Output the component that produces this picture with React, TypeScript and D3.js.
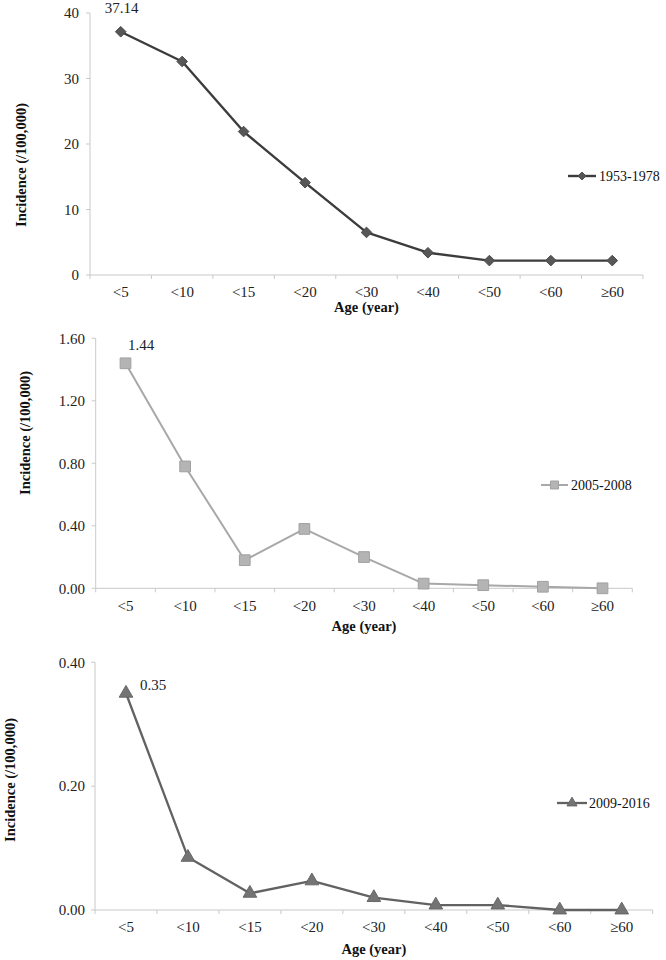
import React from "react";
import * as d3 from "d3";

const categories = ["<5", "<10", "<15", "<20", "<30", "<40", "<50", "<60", "≥60"];
const series1953 = [37.14, 32.6, 21.9, 14.1, 6.5, 3.4, 2.2, 2.2, 2.2];
const series2005 = [1.44, 0.78, 0.18, 0.38, 0.2, 0.03, 0.02, 0.01, 0.0];
const series2009 = [0.35, 0.085, 0.027, 0.047, 0.02, 0.008, 0.008, 0.0, 0.0];
const ticks1953 = [0, 10, 20, 30, 40];
const ticks2005 = [0, 0.4, 0.8, 1.2, 1.6];
const ticks2009 = [0, 0.2, 0.4];
const legendNames = ["1953-1978", "2005-2008", "2009-2016"];
const peakLabels = ["37.14", "1.44", "0.35"];

const FONT = "'Liberation Serif', 'Times New Roman', serif";
const AXIS = "#c9c9c9";

type PanelCfg = {
  values: number[];
  ticks: number[];
  fmt: (v: number) => string;
  name: string;
  label: string;
  x0: number; x1: number; yTop: number; yBot: number;
  tickRight: number;
  yTitleX: number; yTitleY: number;
  catY: number; xTitleY: number;
  labelX: number; labelY: number; labelAnchor: string;
  legX0: number; legX1: number; legY: number; legTextX: number;
  line: string; fill: string; stroke: string; lw: number;
  symbol: d3.SymbolType; symSize: number;
};

const panels: PanelCfg[] = [
  {
    values: series1953, ticks: ticks1953, fmt: d3.format("d"), name: legendNames[0], label: peakLabels[0],
    x0: 90, x1: 643, yTop: 13, yBot: 275, tickRight: 79,
    yTitleX: 21, yTitleY: 165, catY: 297, xTitleY: 312,
    labelX: 121.5, labelY: 13, labelAnchor: "middle",
    legX0: 568, legX1: 596, legY: 176, legTextX: 599,
    line: "#3c3c3c", fill: "#575757", stroke: "#4a4a4a", lw: 2.4,
    symbol: d3.symbolDiamond2, symSize: 72,
  },
  {
    values: series2005, ticks: ticks2005, fmt: d3.format(".2f"), name: legendNames[1], label: peakLabels[1],
    x0: 95.7, x1: 632.3, yTop: 338.3, yBot: 588.3, tickRight: 85,
    yTitleX: 25, yTitleY: 433, catY: 611, xTitleY: 631,
    labelX: 128, labelY: 350, labelAnchor: "start",
    legX0: 541, legX1: 568, legY: 485, legTextX: 571,
    line: "#a8a8a8", fill: "#b4b4b4", stroke: "#a0a0a0", lw: 2,
    symbol: d3.symbolSquare, symSize: 115,
  },
  {
    values: series2009, ticks: ticks2009, fmt: d3.format(".2f"), name: legendNames[2], label: peakLabels[2],
    x0: 95, x1: 652.7, yTop: 662.3, yBot: 910, tickRight: 85,
    yTitleX: 10, yTitleY: 780, catY: 932, xTitleY: 954,
    labelX: 140, labelY: 690, labelAnchor: "start",
    legX0: 557, legX1: 587, legY: 803, legTextX: 589,
    line: "#626262", fill: "#747474", stroke: "#666666", lw: 2.3,
    symbol: d3.symbolTriangle, symSize: 80,
  },
];

function Panel({ p }: { p: PanelCfg }) {
  const x = d3.scaleBand<string>().domain(categories).range([p.x0, p.x1]).paddingInner(0).paddingOuter(0);
  const bw = x.bandwidth();
  const yMax = p.ticks[p.ticks.length - 1];
  const y = d3.scaleLinear().domain([0, yMax]).range([p.yBot, p.yTop]);
  const cx = (c: string) => (x(c) as number) + bw / 2;
  const lineGen = d3.line<number>().x((_, i) => cx(categories[i])).y((v) => y(v));
  const sym = d3.symbol().type(p.symbol).size(p.symSize)();
  const legSym = d3.symbol().type(p.symbol).size(p.symSize * 0.55)();
  const boundaries = categories.map((c) => x(c) as number).concat([p.x1]);
  return (
    <g>
      <line x1={p.x0} x2={p.x0} y1={y(yMax)} y2={y(0)} stroke={AXIS} strokeWidth={1} />
      {p.ticks.map((t) => (
        <g key={t}>
          <line x1={p.x0 - 4} x2={p.x0} y1={y(t)} y2={y(t)} stroke={AXIS} />
          <text x={p.tickRight} y={y(t)} dy="0.35em" textAnchor="end" fontSize={15} fill="#222" fontFamily={FONT}>
            {p.fmt(t)}
          </text>
        </g>
      ))}
      <line x1={p.x0} x2={p.x1} y1={y(0)} y2={y(0)} stroke={AXIS} strokeWidth={1} />
      {boundaries.map((b, i) => (
        <line key={i} x1={b} x2={b} y1={y(0)} y2={y(0) + 4} stroke={AXIS} />
      ))}
      {categories.map((c) => (
        <text key={c} x={cx(c)} y={p.catY} textAnchor="middle" fontSize={15} fill="#222" fontFamily={FONT}>
          {c}
        </text>
      ))}
      <text x={(p.x0 + p.x1) / 2} y={p.xTitleY} textAnchor="middle" fontSize={14.5} fontWeight="bold" fill="#111" fontFamily={FONT}>
        Age (year)
      </text>
      <text
        transform={`translate(${p.yTitleX},${p.yTitleY}) rotate(-90)`}
        textAnchor="middle"
        dy="0.35em"
        fontSize={14.5}
        fontWeight="bold"
        fill="#111"
        fontFamily={FONT}
      >
        Incidence (/100,000)
      </text>
      <path d={lineGen(p.values) || ""} fill="none" stroke={p.line} strokeWidth={p.lw} strokeLinejoin="round" />
      {p.values.map((v, i) => (
        <path
          key={i}
          d={sym || ""}
          transform={`translate(${cx(categories[i])},${y(v)})`}
          fill={p.fill}
          stroke={p.stroke}
          strokeWidth={1}
        />
      ))}
      <text x={p.labelX} y={p.labelY} textAnchor={p.labelAnchor} fontSize={15} fill="#222" fontFamily={FONT}>
        {p.label}
      </text>
      <line x1={p.legX0} x2={p.legX1} y1={p.legY} y2={p.legY} stroke={p.line} strokeWidth={p.lw} />
      <path
        d={legSym || ""}
        transform={`translate(${(p.legX0 + p.legX1) / 2},${p.legY})`}
        fill={p.fill}
        stroke={p.stroke}
        strokeWidth={1}
      />
      <text x={p.legTextX} y={p.legY} dy="0.35em" fontSize={14} fill="#111" fontFamily={FONT}>
        {p.name}
      </text>
    </g>
  );
}

export default function App() {
  return (
    <svg
      width={666}
      height={960}
      style={{ position: "absolute", left: 0, top: 0, background: "#fff", fontFamily: FONT }}
    >
      <rect width={666} height={960} fill="#fff" />
      {panels.map((p, i) => (
        <Panel key={i} p={p} />
      ))}
    </svg>
  );
}
